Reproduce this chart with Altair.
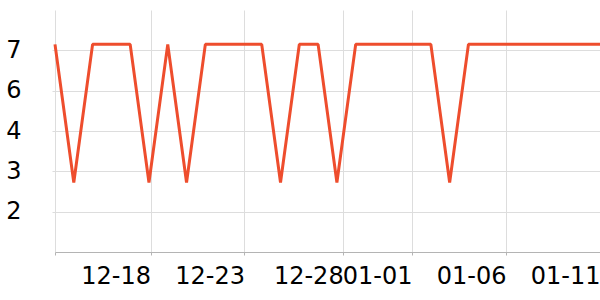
import altair as alt
import pandas as pd

dates = [
    "2023-12-13", "2023-12-14", "2023-12-15", "2023-12-16", "2023-12-17",
    "2023-12-18", "2023-12-19", "2023-12-20", "2023-12-21", "2023-12-22",
    "2023-12-23", "2023-12-24", "2023-12-25", "2023-12-26", "2023-12-27",
    "2023-12-28", "2023-12-29", "2023-12-30", "2023-12-31", "2024-01-01",
    "2024-01-02", "2024-01-03", "2024-01-04", "2024-01-05", "2024-01-06",
    "2024-01-07", "2024-01-08", "2024-01-09", "2024-01-10", "2024-01-11",
]
values = [
    7.06, 2.78, 7.06, 7.06, 7.06,
    2.78, 7.06, 2.78, 7.06, 7.06,
    7.06, 7.06, 2.78, 7.06, 7.06,
    2.78, 7.06, 7.06, 7.06, 7.06,
    7.06, 2.78, 7.06, 7.06, 7.06,
    7.06, 7.06, 7.06, 7.06, 7.06,
]
x_ticks = [
    "2023-12-13T00:00", "2023-12-18T02:00", "2023-12-23T02:00",
    "2023-12-28T08:00", "2024-01-01T00:00", "2024-01-06T00:00",
    "2024-01-11T00:00",
]
y_domain = [0.625, 8.125]
y_ticks = [1.875, 3.125, 4.375, 5.625, 6.875]


def ms(s):
    return int(pd.Timestamp(s, tz="UTC").value // 10**6)


df = pd.DataFrame({"t": [ms(d) for d in dates], "v": values})

FONT = "DejaVu Sans"

chart = (
    alt.Chart(df)
    .mark_line(color="#ee4d2d", strokeWidth=3, strokeJoin="bevel")
    .encode(
        x=alt.X(
            "t:T",
            scale=alt.Scale(type="utc", domain=[ms(dates[0]), ms(dates[-1])], nice=False),
            axis=alt.Axis(
                title=None,
                values=[ms(s) for s in x_ticks],
                labelExpr="datum.index == 0 ? '' : utcFormat(datum.value, '%m-%d')",
                labelAlign="right",
                labelFlush=False,
                labelOverlap=False,
                labelFont=FONT,
                labelFontSize=24,
                labelColor="#000000",
                labelPadding=9,
                tickSize=3,
                tickColor="#b4b4b4",
                domainColor="#b4b4b4",
                gridColor="#dddddd",
                grid=True,
            ),
        ),
        y=alt.Y(
            "v:Q",
            scale=alt.Scale(domain=y_domain, nice=False, zero=False),
            axis=alt.Axis(
                title=None,
                values=y_ticks,
                format="d",
                domain=False,
                labelAlign="right",
                labelFont=FONT,
                labelFontSize=24,
                labelColor="#000000",
                labelPadding=31,
                tickSize=3,
                tickColor="#dddddd",
                gridColor="#dddddd",
                grid=True,
            ),
        ),
    )
    .properties(
        width=545,
        height=242,
        autosize=alt.AutoSizeParams(type="none"),
        padding={"left": 55, "top": 10, "right": 0, "bottom": 48},
    )
    .configure_view(stroke=None)
)

chart.save("out.html", embed_options={"renderer": "svg", "actions": False})
